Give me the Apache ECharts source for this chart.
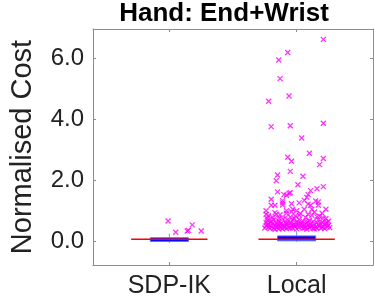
<!DOCTYPE html>
<html>
<head>
<meta charset="utf-8">
<script src="https://cdn.jsdelivr.net/npm/echarts@6/dist/echarts.min.js"></script>
<style>html,body{margin:0;padding:0;background:#fff}#c{width:374px;height:299px}</style>
</head>
<body>
<div id="c"></div>
<script>
// ---- data ----
var categories = ['SDP-IK', 'Local'];
var catPos = [1, 2];
var whiskerLow = [-0.04, 0.0];
var q1 = [0.01, 0.03];
var median = [0.08, 0.08];
var q3 = [0.13, 0.19];
var whiskerHigh = [0.27, 0.36];
var yTicks = [0, 2, 4, 6];

// outliers: [jittered x position, cost]
var sdpOutliers = [[0.99,0.68],[1.05,0.31],[1.14,0.35],[1.15,0.37],[1.18,0.55],[1.25,0.35]];
var localOutliers = [
 [2.21,6.61],[1.93,6.18],[1.86,5.94],[1.87,5.33],[1.94,4.76],[1.78,4.59],[2.21,3.87],[1.95,3.79],[1.80,3.76],
 [2.04,3.39],[2.10,2.89],[1.93,2.76],[2.21,2.72],[1.96,2.63],[2.18,2.52],[1.95,2.30],[1.85,2.18],[2.05,2.14],
 [1.84,1.99],[2.01,1.86],[2.21,1.80],[2.16,1.73],[1.85,1.63],[1.95,1.60],[1.94,1.58],[1.90,1.54],[1.92,1.52],
 [2.11,1.67],[2.09,1.54],[2.08,1.45],[1.80,1.39],[1.89,1.34],[2.06,1.35],[2.15,1.33],[2.17,1.30],[1.89,1.27],
 [1.96,1.24],[2.02,1.27],[1.80,1.19],[1.83,1.19],[1.89,1.20],[2.09,1.23],[2.11,1.19],[2.17,1.19],
 [2.23,1.06],[2.12,1.06],[2.06,1.06],[1.76,1.01],[1.92,1.01],[1.97,1.06],[2.00,1.01],[2.20,0.93],[1.76,0.90],
 [1.84,0.90],[1.92,0.93],[2.09,0.90],[1.95,0.81],[1.77,0.77],[1.86,0.77],[1.98,0.77],[2.16,0.82],[2.21,0.77],
 [1.78,0.85],[1.81,0.80],[1.87,0.88],[1.91,0.78],[1.99,0.84],[2.03,0.92],[2.07,0.79],[2.12,0.86],[2.18,0.83],
 [2.23,0.76],[1.83,0.95],[2.14,0.97],[1.96,0.98],[2.02,0.87],
 [1.75,0.45],[1.76,0.52],[1.76,0.62],[1.77,0.70],[1.78,0.48],[1.78,0.57],[1.79,0.43],[1.80,0.66],[1.80,0.50],
 [1.81,0.59],[1.82,0.44],[1.82,0.72],[1.83,0.53],[1.84,0.47],[1.84,0.63],[1.85,0.56],[1.86,0.42],[1.86,0.68],
 [1.87,0.50],[1.88,0.60],[1.88,0.45],[1.89,0.74],[1.90,0.54],[1.90,0.47],[1.91,0.64],[1.92,0.43],[1.92,0.58],
 [1.93,0.51],[1.94,0.69],[1.94,0.46],[1.95,0.61],[1.96,0.53],[1.97,0.44],[1.97,0.71],[1.98,0.57],[1.99,0.49],
 [2.00,0.65],[2.00,0.42],[2.01,0.55],[2.02,0.47],[2.02,0.73],[2.03,0.60],[2.04,0.50],[2.05,0.44],[2.05,0.67],
 [2.06,0.56],[2.07,0.48],[2.08,0.62],[2.08,0.41],[2.09,0.53],[2.10,0.70],[2.10,0.46],[2.11,0.59],[2.12,0.51],
 [2.13,0.43],[2.13,0.66],[2.14,0.55],[2.15,0.48],[2.16,0.62],[2.16,0.44],[2.17,0.72],[2.18,0.52],[2.19,0.58],
 [2.19,0.45],[2.20,0.64],[2.21,0.50],[2.22,0.55],[2.22,0.43],[2.23,0.61],[2.24,0.48],[2.25,0.53],[2.25,0.67],
 [2.26,0.46],[1.77,0.55],[1.79,0.64],[1.83,0.41],[1.85,0.49],[1.87,0.58],[1.89,0.42],[1.91,0.50],[1.93,0.62],
 [1.95,0.45],[1.98,0.52],[2.01,0.61],[2.04,0.57],[2.06,0.45],[2.09,0.64],[2.11,0.49],[2.14,0.42],[2.17,0.56],
 [2.20,0.47],[2.23,0.57],[2.24,0.63]
];

var boxData = catPos.map(function (p, i) {
  return [p, whiskerLow[i], q1[i], median[i], q3[i], whiskerHigh[i]];
});

var FONT = 'Liberation Sans';
var AXC = '#8c8c8c';
var xSymbol = 'path://M0,0L10,10M10,0L0,10';

var chart = echarts.init(document.getElementById('c'), null, {renderer: 'canvas'});
chart.setOption({
  animation: false,
  backgroundColor: '#fff',
  title: {
    text: 'Hand: End+Wrist', left: 224, top: 1, textAlign: 'center', padding: 0,
    textStyle: {fontFamily: FONT, fontWeight: 'bold', fontSize: 26, color: '#000'}
  },
  grid: {left: 76, right: 1, top: 29, bottom: 34, show: false},
  xAxis: [{
    type: 'value', min: 0.4, max: 2.6, position: 'bottom',
    axisLine: {show: true, onZero: false, lineStyle: {color: AXC}},
    axisTick: {show: true, inside: true, length: 3, customValues: catPos, lineStyle: {color: AXC}},
    axisLabel: {customValues: catPos, margin: 9, fontFamily: FONT, fontSize: 25, color: '#222',
      formatter: function (v) { var i = catPos.indexOf(Math.round(v)); return i >= 0 ? categories[i] : ''; }},
    splitLine: {show: false}
  }, {
    type: 'value', min: 0.4, max: 2.6, position: 'top',
    axisLine: {show: true, onZero: false, lineStyle: {color: AXC}},
    axisTick: {show: true, inside: true, length: 3, customValues: catPos, lineStyle: {color: AXC}},
    axisLabel: {show: false}, splitLine: {show: false}
  }],
  yAxis: [{
    type: 'value', min: -0.76, max: 6.95, position: 'left',
    name: 'Normalised Cost', nameLocation: 'middle', nameGap: 56,
    nameTextStyle: {fontFamily: FONT, fontSize: 29, color: '#222'},
    axisLine: {show: true, onZero: false, lineStyle: {color: AXC}},
    axisTick: {show: true, inside: true, length: 3, customValues: yTicks, lineStyle: {color: AXC}},
    axisLabel: {customValues: yTicks, margin: 9, fontFamily: FONT, fontSize: 24, color: '#222',
      formatter: function (v) { return v.toFixed(1); }},
    splitLine: {show: false}
  }, {
    type: 'value', min: -0.76, max: 6.95, position: 'right',
    axisLine: {show: true, onZero: false, lineStyle: {color: AXC}},
    axisTick: {show: true, inside: true, length: 3, customValues: yTicks, lineStyle: {color: AXC}},
    axisLabel: {show: false}, splitLine: {show: false}
  }],
  series: [{
    type: 'custom',
    xAxisIndex: 0, yAxisIndex: 0,
    data: boxData,
    renderItem: function (params, api) {
      var x = api.value(0);
      var wl = api.coord([x, api.value(1)]);
      var b1 = api.coord([x - 0.15, api.value(2)]);
      var md1 = api.coord([x - 0.3, api.value(3)]);
      var md2 = api.coord([x + 0.3, api.value(3)]);
      var b2 = api.coord([x + 0.15, api.value(4)]);
      var wh = api.coord([x, api.value(5)]);
      return {
        type: 'group',
        children: [{
          type: 'line',
          shape: {x1: wl[0], y1: wl[1], x2: wh[0], y2: wh[1]},
          style: {stroke: '#7f8cff', lineWidth: 1}
        }, {
          type: 'rect',
          shape: {x: b1[0], y: b2[1], width: b2[0] - b1[0], height: b1[1] - b2[1]},
          style: {fill: '#0000ff', stroke: '#6070ff', lineWidth: 1}
        }, {
          type: 'line',
          shape: {x1: md1[0], y1: md1[1], x2: md2[0], y2: md2[1]},
          style: {stroke: '#ff0000', lineWidth: 1.6}
        }]
      };
    }
  }, {
    type: 'scatter', xAxisIndex: 0, yAxisIndex: 0,
    data: sdpOutliers, symbol: xSymbol, symbolSize: 5,
    itemStyle: {color: 'none', borderColor: '#ff00ff', borderWidth: 1.3}
  }, {
    type: 'scatter', xAxisIndex: 0, yAxisIndex: 0,
    data: localOutliers, symbol: xSymbol, symbolSize: 5,
    itemStyle: {color: 'none', borderColor: '#ff00ff', borderWidth: 1.3}
  }]
});
</script>
</body>
</html>
